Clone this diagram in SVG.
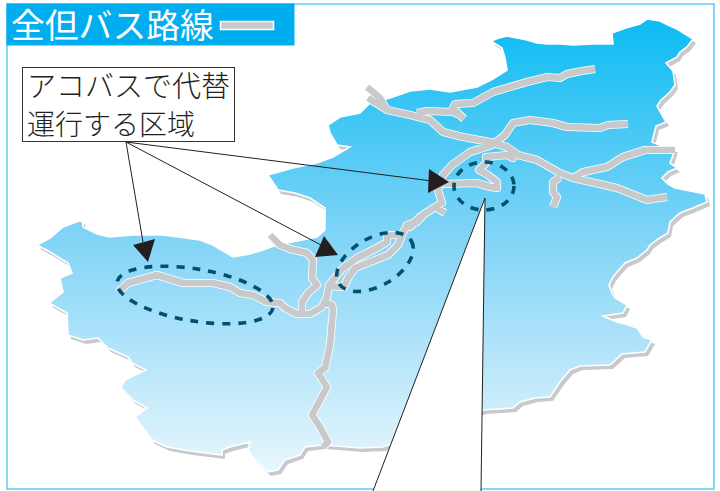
<svg xmlns="http://www.w3.org/2000/svg" width="720" height="491" viewBox="0 0 720 491">
<style>
.road{fill:none;stroke:#c8c9cb;stroke-width:6.6;stroke-linejoin:round;stroke-linecap:butt}
.casing{fill:none;stroke:#fff;stroke-width:8.2;stroke-linejoin:round;stroke-linecap:butt}
.area{fill:none;stroke:#00506e;stroke-width:3.6;stroke-dasharray:8 8}
.lead{fill:none;stroke:#231f20;stroke-width:1}
.head{fill:#231f20}
text{font-family:"Noto Sans CJK JP","Liberation Sans",sans-serif}
</style>
<defs>
<linearGradient id="g" gradientUnits="userSpaceOnUse" x1="0" y1="20" x2="0" y2="475">
<stop offset="0" stop-color="#0cbcf3"/><stop offset="0.5" stop-color="#86d5f7"/><stop offset="1" stop-color="#e9f7fd"/>
</linearGradient>
<path id="land" d="M491,41 L499,38 L507,36 L517,38 L527,40 L537,43 L547,44 L560,44 L573,45 L593,44 L613,44 L612,33 L626,28 L640,24 L647,19 L660,21 L670,26 L677,29 L693,39 L687,47 L680,52 L677,57 L666,63 L673,71 L675,85 L670,92 L661,100 L657,106 L662,115 L666,122 L656,126 L654,134 L652,142 L664,147 L675,148 L673,155 L670,163 L677,168 L668,172 L662,178 L668,184 L675,188 L690,191 L705,194 L707,202 L693,208 L680,213 L670,222 L668,233 L658,239 L650,245 L647,250 L637,258 L625,263 L617,272 L613,277 L609,285 L612,293 L615,298 L627,305 L623,313 L603,316 L617,322 L628,325 L637,328 L643,337 L652,340 L645,352 L622,354 L610,365 L580,366 L570,370 L560,382 L550,397 L535,398 L520,402 L513,408 L483,410 L383,447 L360,448 L323,445 L305,447 L300,455 L285,460 L278,470 L268,472 L253,458 L248,450 L250,442 L230,447 L222,450 L222,455 L190,451 L167,447 L152,440 L143,428 L135,417 L147,408 L133,400 L121,388 L125,380 L146,370 L132,363 L128,357 L108,348 L98,338 L83,340 L68,335 L67,313 L49,303 L63,292 L60,278 L72,273 L68,263 L50,252 L37,245 L50,238 L63,227 L82,220 L83,227 L97,234 L110,237 L133,235 L163,235 L200,240 L213,245 L233,257 L250,254 L263,250 L277,245 L297,241 L317,237 L325,230 L325,208 L310,198 L295,193 L278,190 L268,175 L293,168 L317,163 L333,157 L350,147 L337,145 L330,133 L328,125 L340,117 L360,113 L370,103 L390,98 L410,91 L430,89 L450,92 L477,87 L493,79 L507,70 L505,58 L502,48 Z"/>
<path id="roads" d="M595,69 L582,71 L567,74 L560,78 L547,77 L527,82 L493,92 L473,103 L455,104 L453,108 L460,115 L464,119 M417,113 L427,111 L452,112 L460,115 M367,87 L380,98 L387,110 M368,98 L387,110 L410,115 L430,120 L443,132 L463,137 L490,142 L507,147 L518,155 L537,160 L560,173 L573,178 L617,188 L647,200 L667,197 M628,124 L608,125 L600,128 L567,127 L553,123 L530,120 L513,123 L505,135 L492,145 L470,152 L452,165 L443,175 L438,190 L442,203 L435,207 L420,217 L410,227 L407,225 L402,235 L398,245 L388,255 L370,262 L355,268 L348,278 L344,287 L330,286 M435,207 L445,213 M443,184 L477,183 L490,187 L497,188 L497,182 L488,175 L479,170 L487,162 L486,157 L507,155 L513,158 L510,152 M675,150 L645,150 L623,157 L607,167 L583,172 L573,178 M560,177 L553,182 L553,192 L557,197 L553,207 M425,213 L417,222 L407,225 L402,235 L387,235 L387,242 L377,248 L357,258 L343,268 L329,285 L327,297 L322,307 L310,314 L297,314 L285,308 L280,303 L267,302 L253,295 L240,293 L230,287 L213,283 L183,283 L157,275 L128,283 L118,292 M323,302 L332,305 L333,310 L330,345 L325,368 L318,373 L327,387 L312,415 L320,427 L328,442 L323,447 M302,312 L302,302 L308,293 L317,285 L312,278 L313,260 L307,253 L290,249 L280,245 L270,235"/>
</defs>
<rect id="frame" x="7" y="4" width="707" height="485" fill="#fff" stroke="#5ccdf2" stroke-width="1.5"/>
<g id="map">
<use href="#land" transform="translate(3,4)" fill="#c8c9cb"/>
<use href="#land" fill="url(#g)" stroke="#fff" stroke-width="1.6"/>
</g>
<g id="connectors">
<use href="#roads" class="casing"/>
<use href="#roads" class="road"/>
<polygon points="485,198 373,491 481,491" fill="#fff"/>
<path class="lead" d="M485,198 L373,491 M485,198 L481,491 M126,142 L143,242 M126,142 L321,245 M126,142 L432,181"/>
<polygon class="head" points="133,245 155,239 148,262"/>
<polygon class="head" points="324,236 338,255 315,257"/>
<polygon class="head" points="429,169 428,193 449,182"/>
</g>
<g id="area-west"><ellipse class="area" cx="195" cy="295" rx="79" ry="26" transform="rotate(9.5 195 295)"/></g>
<g id="area-middle"><ellipse class="area" cx="375" cy="262" rx="42" ry="24" transform="rotate(-30 375 262)"/></g>
<g id="area-east"><ellipse class="area" cx="484" cy="186" rx="30" ry="24"/></g>
<g id="title">
<rect x="6.5" y="3.5" width="288" height="42" fill="#00aeef"/>
<text x="11" y="38" font-size="33.8" fill="#fff">全但バス路線</text>
<rect x="220.5" y="21.5" width="53" height="8" fill="#c8c9cb" stroke="#fff" stroke-width="1.5"/>
</g>
<g id="label">
<rect x="22.5" y="67.5" width="212" height="74" fill="#fff" stroke="#333" stroke-width="1"/>
<text x="27" y="97" font-size="29" font-weight="300" fill="#231f20">アコバスで代替</text>
<text x="27" y="135" font-size="28" font-weight="300" fill="#231f20">運行する区域</text>
</g>
</svg>
